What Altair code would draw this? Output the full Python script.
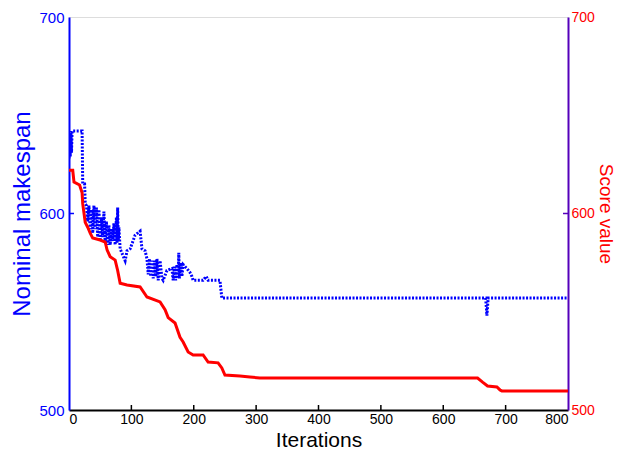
import altair as alt
import pandas as pd

# ---- data ----
blue_x = [0, 1, 2, 3, 4, 5, 21, 22, 25, 26, 28,
          30, 32, 34, 36, 38, 40, 42, 44, 46, 48, 50, 52, 54, 56, 58, 60, 62, 64, 66, 68,
          70, 72, 74, 76, 77, 78, 79, 80, 82, 90, 93, 98, 106, 114, 117, 122, 125,
          127, 129, 131, 133, 135, 137, 139, 141, 143, 146, 149, 151, 157, 165,
          167, 169, 171, 173, 175, 176, 177, 179, 181, 183, 189, 194, 197, 199,
          215, 220, 223, 242, 245, 668, 670, 672, 800]
blue_y = [628, 641, 629, 642, 631, 642, 642, 615, 615, 605, 604,
          596, 604, 592, 602, 590, 604, 592, 603, 588, 602, 586, 598, 588, 601, 585, 596, 584, 594, 584, 592,
          586, 595, 584, 598, 585, 603, 586, 593, 582, 576, 581, 582, 589, 591, 582, 581, 577,
          569, 577, 568, 576, 567, 576, 568, 577, 566, 576, 567, 566, 571, 572,
          566, 573, 566, 574, 567, 580, 567, 575, 568, 574, 572, 570, 568, 566,
          566, 568, 566, 566, 557, 557, 548, 557, 557]

red_x = [0, 6, 8, 17, 21, 22, 26, 30, 34, 38, 50, 58, 61, 66, 74, 78, 82, 93, 114,
         125, 146, 154, 159, 170, 178, 183, 191, 199, 215, 223, 239, 245, 250, 274,
         290, 306, 655, 663, 671, 686, 691, 694, 800]
red_y = [622, 622, 616, 614.5, 610.5, 605, 595.5, 593, 590, 587.5, 586.5, 585.5, 581.5, 578, 576.3,
         571, 564.5, 563.6, 562.6, 557.5, 555, 551, 547, 544.3, 537, 534.6, 529.5, 528, 528,
         524.4, 524, 521.4, 517.8, 517.3, 516.8, 516.3, 516.3, 514.2, 512.2, 511.7, 510.2,
         509.7, 509.7]

x_ticks = [0, 100, 200, 300, 400, 500, 600, 700, 800]
inner_x_ticks = [100, 200, 300, 400, 500, 600, 700]
y_ticks = [500, 600, 700]
mid_y_tick = [600]

W, H = 499, 393
FONT = "Liberation Sans"
BLUE = "#0000ff"
RED = "#ff0000"
PURPLE = "#5500bb"

blue_df = pd.DataFrame({"x": blue_x, "v": blue_y})
red_df = pd.DataFrame({"x": red_x, "v": red_y})
xt_df = pd.DataFrame({"x": inner_x_ticks})
yt_df = pd.DataFrame({"t": mid_y_tick})

xscale = alt.Scale(domain=[0, 800], nice=False, zero=False)
yscale = alt.Scale(domain=[500, 700], nice=False, zero=False)

X_AXIS = alt.Axis(
    values=x_ticks, title="Iterations", grid=False, tickSize=0,
    domainColor="black", domainWidth=2, labelColor="black",
    labelFont=FONT, labelFontSize=14, labelPadding=2,
    titleFont=FONT, titleFontSize=21, titleFontWeight="normal",
    titleColor="black", titlePadding=3)

blue = alt.Chart(blue_df).mark_line(
    color=BLUE, strokeWidth=3, strokeDash=[2, 1.5], strokeCap="butt", clip=True
).encode(
    x=alt.X("x:Q", scale=xscale, axis=X_AXIS),
    y=alt.Y("v:Q", scale=yscale, axis=alt.Axis(
        orient="left", values=y_ticks, title="Nominal makespan", grid=False,
        tickSize=0, domainColor=BLUE, domainWidth=2, labelColor=BLUE,
        labelFont=FONT, labelFontSize=15, labelPadding=5,
        titleFont=FONT, titleFontSize=24, titleFontWeight="normal",
        titleColor=BLUE, titlePadding=4)),
)

red = alt.Chart(red_df).mark_line(
    color=RED, strokeWidth=3, clip=True
).encode(
    x=alt.X("x:Q", scale=xscale, axis=X_AXIS),
    y=alt.Y("v:Q", scale=yscale, axis=alt.Axis(
        orient="right", values=y_ticks, title="Score value", grid=False,
        tickSize=0, domainColor=PURPLE, domainWidth=2, labelColor=RED,
        labelFont=FONT, labelFontSize=14, labelPadding=3,
        titleFont=FONT, titleFontSize=19, titleFontWeight="normal",
        titleColor=RED, titlePadding=1)),
)

xticks = alt.Chart(xt_df).mark_rule(color="black", strokeWidth=1.5).encode(
    x=alt.X("x:Q", scale=xscale, axis=X_AXIS),
    y=alt.value(H), y2=alt.value(H - 5),
)

lticks = alt.Chart(yt_df).mark_rule(color=BLUE, strokeWidth=1.5).encode(
    y=alt.Y("t:Q", scale=yscale, axis=None),
    x=alt.value(0), x2=alt.value(5),
)

rticks = alt.Chart(yt_df).mark_rule(color=PURPLE, strokeWidth=1.5).encode(
    y=alt.Y("t:Q", scale=yscale, axis=None),
    x=alt.value(W - 5), x2=alt.value(W),
)

chart = alt.layer(blue, red, xticks, lticks, rticks).resolve_scale(
    y="independent"
).properties(
    width=W, height=H,
    autosize=alt.AutoSizeParams(type="none"),
    padding={"left": 61, "top": 9, "right": 49, "bottom": 41},
).configure_view(
    stroke="black", strokeWidth=2
).configure(background="white")

chart.save("out.html", embed_options={"renderer": "svg", "actions": False})
